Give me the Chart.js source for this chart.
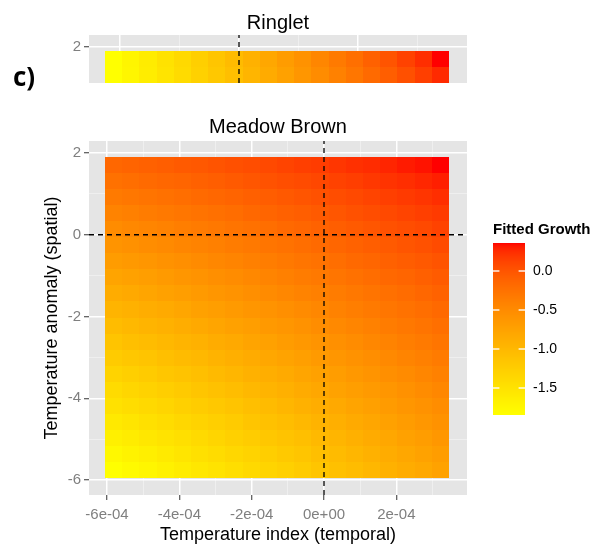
<!DOCTYPE html>
<html>
<head>
<meta charset="utf-8">
<script src="https://cdn.jsdelivr.net/npm/chart.js@4.4.1/dist/chart.umd.min.js"></script>
<style>
  html, body { margin: 0; padding: 0; background: #fff; }
  #wrap { position: relative; width: 592px; height: 546px; }
  #wrap canvas { position: absolute; left: 0; top: 0; }
  #tag { position: absolute; left: 13px; top: 63px; font: bold 26px "Open Sans", sans-serif; line-height: 26px; color: #000; }
</style>
</head>
<body>
<div id="wrap">
  <canvas id="ringlet" width="592" height="546"></canvas>
  <canvas id="meadow" width="592" height="546"></canvas>
  <canvas id="legend" width="592" height="546"></canvas>
  <div id="tag">c)</div>
</div>
<script>
// ---- data ----
// Meadow Brown: tile centres along temperature index (columns) and anomaly (rows, top to bottom)
const mbTempIndex = [-5.817e-4, -5.341e-4, -4.866e-4, -4.390e-4, -3.914e-4, -3.439e-4, -2.963e-4, -2.488e-4, -2.012e-4, -1.536e-4,
                     -1.061e-4, -5.85e-5, -1.10e-5, 3.66e-5, 8.42e-5, 1.317e-4, 1.793e-4, 2.268e-4, 2.744e-4, 3.220e-4];
const mbAnomaly = [1.706, 1.313, 0.920, 0.528, 0.135, -0.258, -0.650, -1.043, -1.436, -1.828,
                   -2.221, -2.614, -3.006, -3.399, -3.792, -4.184, -4.577, -4.970, -5.362, -5.755];
const mbGrowth = [
  [-0.15,-0.12,-0.10,-0.07,-0.04,-0.02,0.01,0.04,0.06,0.09,0.12,0.15,0.17,0.20,0.23,0.25,0.28,0.31,0.33,0.36],
  [-0.24,-0.21,-0.18,-0.15,-0.13,-0.10,-0.07,-0.04,-0.01,0.02,0.05,0.07,0.10,0.13,0.16,0.19,0.22,0.24,0.27,0.30],
  [-0.33,-0.30,-0.27,-0.24,-0.21,-0.18,-0.15,-0.12,-0.09,-0.06,-0.03,0.00,0.03,0.06,0.09,0.12,0.15,0.18,0.21,0.24],
  [-0.42,-0.39,-0.35,-0.32,-0.29,-0.26,-0.23,-0.20,-0.16,-0.13,-0.10,-0.07,-0.04,-0.01,0.03,0.06,0.09,0.12,0.15,0.18],
  [-0.51,-0.47,-0.44,-0.41,-0.37,-0.34,-0.31,-0.27,-0.24,-0.21,-0.17,-0.14,-0.11,-0.07,-0.04,-0.01,0.03,0.06,0.09,0.13],
  [-0.59,-0.56,-0.52,-0.49,-0.45,-0.42,-0.39,-0.35,-0.32,-0.28,-0.25,-0.21,-0.18,-0.14,-0.11,-0.07,-0.04,0.00,0.03,0.07],
  [-0.68,-0.65,-0.61,-0.57,-0.54,-0.50,-0.46,-0.43,-0.39,-0.36,-0.32,-0.28,-0.25,-0.21,-0.17,-0.14,-0.10,-0.06,-0.03,0.01],
  [-0.77,-0.73,-0.70,-0.66,-0.62,-0.58,-0.54,-0.51,-0.47,-0.43,-0.39,-0.35,-0.32,-0.28,-0.24,-0.20,-0.16,-0.13,-0.09,-0.05],
  [-0.86,-0.82,-0.78,-0.74,-0.70,-0.66,-0.62,-0.58,-0.54,-0.50,-0.46,-0.42,-0.39,-0.35,-0.31,-0.27,-0.23,-0.19,-0.15,-0.11],
  [-0.95,-0.91,-0.87,-0.83,-0.79,-0.74,-0.70,-0.66,-0.62,-0.58,-0.54,-0.50,-0.46,-0.41,-0.37,-0.33,-0.29,-0.25,-0.21,-0.17],
  [-1.04,-1.00,-0.95,-0.91,-0.87,-0.82,-0.78,-0.74,-0.70,-0.65,-0.61,-0.57,-0.52,-0.48,-0.44,-0.40,-0.35,-0.31,-0.27,-0.22],
  [-1.13,-1.08,-1.04,-0.99,-0.95,-0.91,-0.86,-0.82,-0.77,-0.73,-0.68,-0.64,-0.59,-0.55,-0.51,-0.46,-0.42,-0.37,-0.33,-0.28],
  [-1.22,-1.17,-1.13,-1.08,-1.03,-0.99,-0.94,-0.89,-0.85,-0.80,-0.76,-0.71,-0.66,-0.62,-0.57,-0.53,-0.48,-0.43,-0.39,-0.34],
  [-1.31,-1.26,-1.21,-1.16,-1.12,-1.07,-1.02,-0.97,-0.92,-0.88,-0.83,-0.78,-0.73,-0.69,-0.64,-0.59,-0.54,-0.50,-0.45,-0.40],
  [-1.40,-1.35,-1.30,-1.25,-1.20,-1.15,-1.10,-1.05,-1.00,-0.95,-0.90,-0.85,-0.80,-0.75,-0.70,-0.66,-0.61,-0.56,-0.51,-0.46],
  [-1.48,-1.43,-1.38,-1.33,-1.28,-1.23,-1.18,-1.13,-1.08,-1.03,-0.97,-0.92,-0.87,-0.82,-0.77,-0.72,-0.67,-0.62,-0.57,-0.52],
  [-1.57,-1.52,-1.47,-1.42,-1.36,-1.31,-1.26,-1.21,-1.15,-1.10,-1.05,-1.00,-0.94,-0.89,-0.84,-0.79,-0.73,-0.68,-0.63,-0.57],
  [-1.66,-1.61,-1.55,-1.50,-1.45,-1.39,-1.34,-1.28,-1.23,-1.17,-1.12,-1.07,-1.01,-0.96,-0.90,-0.85,-0.80,-0.74,-0.69,-0.63],
  [-1.75,-1.70,-1.64,-1.58,-1.53,-1.47,-1.42,-1.36,-1.31,-1.25,-1.19,-1.14,-1.08,-1.03,-0.97,-0.91,-0.86,-0.80,-0.75,-0.69],
  [-1.84,-1.78,-1.73,-1.67,-1.61,-1.55,-1.50,-1.44,-1.38,-1.32,-1.27,-1.21,-1.15,-1.09,-1.04,-0.98,-0.92,-0.86,-0.81,-0.75]
];

// Ringlet: only the top two rows of its panel are visible
const rgTempIndex = [-2.107e-4, -1.818e-4, -1.529e-4, -1.240e-4, -9.51e-5, -6.62e-5, -3.73e-5, -8.4e-6, 2.05e-5, 4.94e-5,
                     7.83e-5, 1.072e-4, 1.362e-4, 1.651e-4, 1.940e-4, 2.229e-4, 2.518e-4, 2.807e-4, 3.096e-4, 3.385e-4];
const rgAnomaly = [1.70, 1.31];
const rgGrowth = [
  [-1.84,-1.72,-1.61,-1.49,-1.38,-1.26,-1.15,-1.03,-0.91,-0.80,-0.68,-0.57,-0.45,-0.33,-0.22,-0.10,0.01,0.13,0.24,0.36],
  [-1.84,-1.73,-1.62,-1.51,-1.40,-1.29,-1.18,-1.07,-0.96,-0.85,-0.73,-0.62,-0.51,-0.40,-0.29,-0.18,-0.07,0.04,0.15,0.26]
];

// dashed reference lines
const refTempIndex = 0;
const refAnomaly = 0;

// tick labels
const xTickValues = [-6e-4, -4e-4, -2e-4, 0, 2e-4];
const xTickLabels = ['-6e-04', '-4e-04', '-2e-04', '0e+00', '2e-04'];
const yTickValues = [-6, -4, -2, 0, 2];
const yTickLabels = ['-6', '-4', '-2', '0', '2'];
const legendTickValues = [-1.5, -1.0, -0.5, 0.0];
const legendTickLabels = ['-1.5', '-1.0', '-0.5', '0.0'];

// ---- styling helpers ----
Chart.defaults.font.family = "'Liberation Sans', Arial, sans-serif";
const TICK_GREY = '#7f7f7f';
const LOW = [255, 255, 0], HIGH = [255, 0, 0];

function toLab(rgb) {
  const [r, g, b] = rgb.map(c => { c /= 255; return c <= 0.04045 ? c / 12.92 : Math.pow((c + 0.055) / 1.055, 2.4); });
  const X = (0.4124 * r + 0.3576 * g + 0.1805 * b) / 0.95047;
  const Y = 0.2126 * r + 0.7152 * g + 0.0722 * b;
  const Z = (0.0193 * r + 0.1192 * g + 0.9505 * b) / 1.08883;
  const f = t => t > 0.008856 ? Math.cbrt(t) : 7.787 * t + 16 / 116;
  return [116 * f(Y) - 16, 500 * (f(X) - f(Y)), 200 * (f(Y) - f(Z))];
}
function fromLab([L, A, B]) {
  const fy = (L + 16) / 116, fx = fy + A / 500, fz = fy - B / 200;
  const inv = t => t * t * t > 0.008856 ? t * t * t : (t - 16 / 116) / 7.787;
  const X = inv(fx) * 0.95047, Y = inv(fy), Z = inv(fz) * 1.08883;
  const r = 3.2406 * X - 1.5372 * Y - 0.4986 * Z;
  const g = -0.9689 * X + 1.8758 * Y + 0.0415 * Z;
  const b = 0.0557 * X - 0.2040 * Y + 1.0570 * Z;
  const enc = c => { c = Math.min(1, Math.max(0, c)); c = c <= 0.0031308 ? 12.92 * c : 1.055 * Math.pow(c, 1 / 2.4) - 0.055; return Math.round(c * 255); };
  return 'rgb(' + enc(r) + ',' + enc(g) + ',' + enc(b) + ')';
}
const labLow = toLab(LOW), labHigh = toLab(HIGH);
function fillColour(v, lo, hi) {
  const t = Math.min(1, Math.max(0, (v - lo) / (hi - lo)));
  return fromLab(labLow.map((c, k) => c + (labHigh[k] - c) * t));
}
const extent = rows => { const all = rows.flat(); return [Math.min(...all), Math.max(...all)]; };
const mbLimits = extent(mbGrowth);
const rgLimits = extent(rgGrowth);

function tiles(xs, ys, values, limits) {
  return {
    id: 'tiles',
    beforeDatasetsDraw(chart) {
      const { ctx, chartArea: a, scales: { x, y } } = chart;
      const w = Math.abs(xs[1] - xs[0]), h = Math.abs(ys[1] - ys[0]);
      ctx.save();
      ctx.beginPath();
      ctx.rect(a.left, a.top, a.right - a.left, a.bottom - a.top);
      ctx.clip();
      ys.forEach((yv, r) => xs.forEach((xv, c) => {
        const x0 = Math.round(x.getPixelForValue(xv - w / 2)), x1 = Math.round(x.getPixelForValue(xv + w / 2));
        const y0 = Math.round(y.getPixelForValue(yv + h / 2)), y1 = Math.round(y.getPixelForValue(yv - h / 2));
        ctx.fillStyle = fillColour(values[r][c], limits[0], limits[1]);
        ctx.fillRect(x0, y0, x1 - x0, y1 - y0);
      }));
      ctx.restore();
    }
  };
}
const panelBg = {
  id: 'panelBg',
  beforeDraw(chart) {
    const { ctx, chartArea: a } = chart;
    ctx.save();
    ctx.fillStyle = '#e5e5e5';
    ctx.fillRect(a.left, a.top, a.right - a.left, a.bottom - a.top);
    ctx.restore();
  }
};

const findTick = (vals, v, eps) => vals.findIndex(t => Math.abs(t - v) < eps);
const isMajorX = v => Math.abs(Math.round(v / 1e-4)) % 2 === 0;
const isMajorY = v => Math.abs(Math.round(v)) % 2 === 0;
function gridOpts(isMajor) {
  return {
    color: c => isMajor(c.tick.value) ? '#ffffff' : '#f4f4f4',
    lineWidth: c => isMajor(c.tick.value) ? 1.5 : 0.7,
    tickColor: c => isMajor(c.tick.value) ? '#333333' : 'rgba(0,0,0,0)',
    tickLength: 5,
    tickWidth: 1
  };
}
function dashed(points) {
  return { data: points, showLine: true, borderColor: '#000', borderWidth: 1.3, borderDash: [5, 4], pointRadius: 0, fill: false };
}

// ---- Meadow Brown ----
const mbX = [-6.498e-4, 3.954e-4];
const mbY = [-6.367, 2.294];
new Chart(document.getElementById('meadow'), {
  type: 'scatter',
  data: {
    datasets: [
      dashed([{ x: refTempIndex, y: mbY[0] }, { x: refTempIndex, y: mbY[1] }]),
      dashed([{ x: mbX[0], y: refAnomaly }, { x: mbX[1], y: refAnomaly }])
    ]
  },
  options: {
    responsive: false,
    animation: false,
    layout: { padding: { left: 38, right: 125, top: 115, bottom: 0 } },
    plugins: {
      legend: { display: false },
      tooltip: { enabled: false },
      title: { display: true, text: 'Meadow Brown', fullSize: false, color: '#000', font: { size: 20, weight: 'normal' }, padding: { top: 0, bottom: 2 } }
    },
    scales: {
      x: {
        type: 'linear', min: mbX[0], max: mbX[1],
        afterFit: s => { s.height = 51; },
        border: { display: false },
        grid: gridOpts(isMajorX),
        ticks: {
          stepSize: 1e-4, maxTicksLimit: 15, includeBounds: false, autoSkip: false, maxRotation: 0,
          color: TICK_GREY, font: { size: 15 }, padding: 6,
          callback: v => { const i = findTick(xTickValues, v, 1e-9); return i >= 0 ? xTickLabels[i] : ''; }
        },
        title: { display: true, text: 'Temperature index (temporal)', color: '#000', font: { size: 18 }, padding: { top: 0, bottom: 0 } }
      },
      y: {
        type: 'linear', min: mbY[0], max: mbY[1],
        afterFit: s => { s.width = 51; },
        border: { display: false },
        grid: gridOpts(isMajorY),
        ticks: {
          stepSize: 1, maxTicksLimit: 15, includeBounds: false, autoSkip: false,
          color: TICK_GREY, font: { size: 15 }, padding: 3,
          callback: v => { const i = findTick(yTickValues, v, 1e-6); return i >= 0 ? yTickLabels[i] : ''; }
        },
        title: { display: true, text: 'Temperature anomaly (spatial)', color: '#000', font: { size: 18 }, padding: { top: 3, bottom: 0 } }
      }
    }
  },
  plugins: [panelBg, tiles(mbTempIndex, mbAnomaly, mbGrowth, mbLimits)]
});

// ---- Ringlet (top strip) ----
const rgX = [-2.521e-4, 3.832e-4];
const rgY = [1.107, 2.281];
new Chart(document.getElementById('ringlet'), {
  type: 'scatter',
  data: {
    datasets: [dashed([{ x: refTempIndex, y: rgY[0] }, { x: refTempIndex, y: rgY[1] }])]
  },
  options: {
    responsive: false,
    animation: false,
    layout: { padding: { left: 38, right: 125, top: 11, bottom: 463 } },
    plugins: {
      legend: { display: false },
      tooltip: { enabled: false },
      title: { display: true, text: 'Ringlet', fullSize: false, color: '#000', font: { size: 20, weight: 'normal' }, padding: { top: 0, bottom: 0 } }
    },
    scales: {
      x: {
        type: 'linear', min: rgX[0], max: rgX[1],
        afterFit: s => { s.height = 0; },
        border: { display: false },
        grid: Object.assign(gridOpts(isMajorX), { drawTicks: false }),
        ticks: { display: false, stepSize: 1e-4, maxTicksLimit: 10, includeBounds: false }
      },
      y: {
        type: 'linear', min: rgY[0], max: rgY[1],
        afterFit: s => { s.width = 51; },
        border: { display: false },
        grid: gridOpts(isMajorY),
        ticks: {
          stepSize: 1, maxTicksLimit: 3, includeBounds: false, autoSkip: false,
          color: TICK_GREY, font: { size: 15 }, padding: 3,
          callback: v => { const i = findTick(yTickValues, v, 1e-6); return i >= 0 ? yTickLabels[i] : ''; }
        }
      }
    }
  },
  plugins: [panelBg, tiles(rgTempIndex, rgAnomaly, rgGrowth, rgLimits)]
});

// ---- colour bar legend ----
const colourBar = {
  id: 'colourBar',
  beforeDatasetsDraw(chart) {
    const { ctx, chartArea: a, scales: { y } } = chart;
    ctx.save();
    for (let py = Math.floor(a.top); py < a.bottom; py++) {
      ctx.fillStyle = fillColour(y.getValueForPixel(py + 0.5), mbLimits[0], mbLimits[1]);
      ctx.fillRect(a.left, py, a.right - a.left, 1);
    }
    ctx.strokeStyle = 'rgba(255,255,255,0.9)';
    ctx.lineWidth = 1.5;
    const len = (a.right - a.left) / 5;
    legendTickValues.forEach(v => {
      const py = Math.round(y.getPixelForValue(v));
      ctx.beginPath();
      ctx.moveTo(a.left, py); ctx.lineTo(a.left + len, py);
      ctx.moveTo(a.right - len, py); ctx.lineTo(a.right, py);
      ctx.stroke();
    });
    ctx.restore();
  }
};
new Chart(document.getElementById('legend'), {
  type: 'scatter',
  data: { datasets: [] },
  options: {
    responsive: false,
    animation: false,
    layout: { padding: { left: 493, right: 0, top: 221, bottom: 131 } },
    plugins: {
      legend: { display: false },
      tooltip: { enabled: false },
      title: { display: true, text: 'Fitted Growth', align: 'start', color: '#000', font: { size: 15, weight: 'bold' }, padding: { top: 0, bottom: 4 } }
    },
    scales: {
      x: { display: false, min: 0, max: 1 },
      y: {
        type: 'linear', position: 'right', min: mbLimits[0], max: mbLimits[1],
        afterFit: s => { s.width = 67; },
        border: { display: false },
        grid: { display: false },
        ticks: {
          stepSize: 0.5, maxTicksLimit: 8, includeBounds: false, autoSkip: false,
          color: '#000', font: { size: 14 }, padding: 0,
          callback: v => { const i = findTick(legendTickValues, v, 1e-6); return i >= 0 ? legendTickLabels[i] : ''; }
        }
      }
    }
  },
  plugins: [colourBar]
});
</script>
</body>
</html>
